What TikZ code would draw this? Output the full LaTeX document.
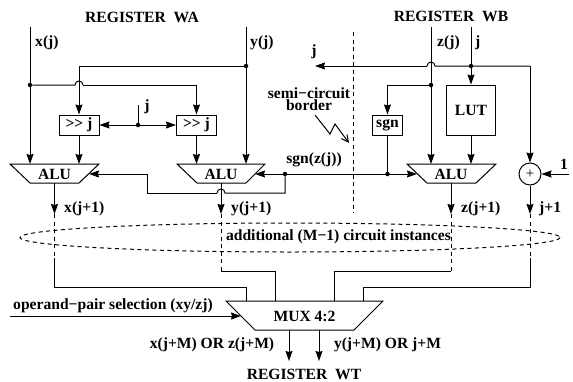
\documentclass[tikz,border=0pt]{standalone}
\usepackage{fontspec}
\setmainfont{Liberation Serif}
\usetikzlibrary{arrows.meta,calc}
\tikzset{
  wire/.style={line width=1pt},
  arr/.style={wire,-{Stealth[length=10pt,width=7pt,inset=1pt]}},
  dashw/.style={wire,dash pattern=on 4pt off 3.5pt},
  lbl/.style={inner sep=0pt,font=\fontsize{15.6}{16}\selectfont\bfseries},
  boxn/.style={draw,line width=1pt,inner sep=0pt,font=\fontsize{15.6}{16}\selectfont\bfseries},
  trap/.style={line width=1pt,fill=white},
  dot/.style={circle,fill=black,inner sep=0pt,minimum size=4.5pt},
  hop/.style={start angle=180,end angle=360,radius=4}
}
\begin{document}
\begin{tikzpicture}[x=1pt,y=-1pt]
\useasboundingbox (0,0) rectangle (573,381);
% texts
\node[lbl] (rwa) at (142,17) {REGISTER\ \ WA};
\node[lbl] (rwb) at (451,16.5) {REGISTER\ \ WB};
\node[lbl] (rwt) at (304,374) {REGISTER\ \ WT};
\node[lbl,anchor=west] (lxj) at (35,43) {x(j)};
\node[lbl,anchor=west] (lyj) at (250,43) {y(j)};
\node[lbl,anchor=west] (lzj) at (437,43) {z(j)};
\node[lbl,anchor=west] (lj2) at (475,43) {j};
\node[lbl] (lj1) at (147,107) {j};
\node[lbl] (lj3) at (314,52) {j};
\node[lbl] (semi) at (309,93.5) {semi−circuit};
\node[lbl] (bord) at (309,105) {border};
\node[lbl] (lsgn) at (314,160) {sgn(z(j))};
\node[lbl] (lone) at (564,164) {1};
\node[lbl,anchor=west] (lx1) at (64,209) {x(j+1)};
\node[lbl,anchor=west] (ly1) at (231,209) {y(j+1)};
\node[lbl,anchor=west] (lz1) at (461,209) {z(j+1)};
\node[lbl,anchor=west] (lj4) at (539,209) {j+1};
\node[lbl] (add) at (338.5,237) {additional (M−1) circuit instances};
\node[lbl] (opsel) at (113,306) {operand−pair selection (xy/zj)};
\node[lbl] (oxz) at (212,345) {x(j+M) OR z(j+M)};
\node[lbl] (oyj) at (387.5,345) {y(j+M) OR j+M};
% boxes
\node[boxn,minimum width=40pt,minimum height=20pt] (sh1) at (79,125) {>{}> j};
\node[boxn,minimum width=40pt,minimum height=20pt] (sh2) at (196.5,125) {>{}> j};
\node[boxn,minimum width=29.5pt,minimum height=20pt] (sgn) at (387.5,125) {sgn};
\node[boxn,minimum width=49pt,minimum height=50pt] (lut) at (471,110) {LUT};
\node[draw,circle,line width=1pt,minimum size=22pt,inner sep=0pt,font=\fontsize{15}{15}\selectfont] (plus) at (530,174) {+};
% ALUs and MUX
\draw[trap] (10,164) -- (99,164) -- (79,183) -- (30,183) -- cycle;
\draw[trap] (177,164) -- (265,164) -- (246,183) -- (197,183) -- cycle;
\draw[trap] (407,164) -- (496,164) -- (476,183) -- (427,183) -- cycle;
\draw[trap] (226,301) -- (383,301) -- (354,330) -- (255,330) -- cycle;
\node[boxn,draw=none] (alu1) at (54.5,174) {ALU};
\node[boxn,draw=none] (alu2) at (221,174) {ALU};
\node[boxn,draw=none] (alu3) at (451,174) {ALU};
\node[boxn,draw=none] (mux) at (304.5,316) {MUX 4:2};
% junctions
\coordinate (xin) at (30,27);
\coordinate (yin) at (246,27);
\coordinate (zin) at (431,27);
\coordinate (jin) at (471,27);
\coordinate (jcorner) at (530,66);
\node[dot] (ydot) at (246,66) {};
\node[dot] (xdot) at (30,85) {};
\node[dot] (jdot) at (138,125) {};
\coordinate (jtop) at (138,105);
\node[dot] (jrdot) at (471,66) {};
\node[dot] (zdot) at (431,85) {};
\node[dot] (sdot) at (387.5,174) {};
\node[dot] (ldot) at (285,174) {};
% inputs
\draw[arr] (xin) -- (30,164);
\draw[arr] (yin) -- (246,164);
\draw[arr] (ydot) -- (79,66) -- (sh1.north);
\draw[wire] (xdot) -- (75,85) arc[hop];
\draw[arr] (83,85) -- (196.5,85) -- (sh2.north);
\draw[wire] (jtop) -- (jdot);
\draw[arr] (jdot) -- (sh1.east);
\draw[arr] (jdot) -- (sh2.west);
\draw[arr] (sh1.south) -- (79,164);
\draw[arr] (sh2.south) -- (196.5,164);
% right side
\draw[arr] (zin) -- (431,164);
\draw[arr] (jin) -- (lut.north);
\draw[arr] (lut.south) -- (471,164);
\draw[wire] (jcorner) -- (435,66) arc[start angle=360,end angle=180,radius=4];
\draw[arr] (427,66) -- (315,66);
\draw[arr] (jcorner) -- (plus.north);
\draw[arr] (zdot) -- (387.5,85) -- (sgn.north);
\draw[wire] (sgn.south) -- (sdot);
\coordinate (onein) at (569,174);
\draw[arr] (onein) -- (plus.east);
% sign line
\draw[arr] (ldot) -- (417,174);
\draw[arr] (ldot) -- (255,174);
\draw[wire] (ldot) -- (285,193) -- (225,193) arc[start angle=360,end angle=180,radius=4];
\draw[arr] (217,193) -- (147,193) -- (147,174) -- (89,174);
% outputs
\draw[arr] (54.5,183) -- (54.5,214);
\draw[arr] (221,183) -- (221,214);
\draw[arr] (451,183) -- (451,214);
\draw[arr] (plus.south) -- (530,214);
% dashed runs
\draw[dashw] (54.5,214) -- (54.5,258);
\draw[dashw] (221,214) -- (221,271);
\draw[dashw] (451,214) -- (451,271);
\draw[dashw] (530,214) -- (530,258);
% to the multiplexer
\draw[wire] (54.5,258) -- (54.5,287) -- (246,287) -- (246,301);
\draw[wire] (221,271) -- (275.5,271) -- (275.5,301);
\draw[wire] (451,271) -- (334,271) -- (334,301);
\draw[wire] (530,258) -- (530,287) -- (363,287) -- (363,301);
\coordinate (selin) at (10,316);
\draw[arr] (selin) -- (241,316);
\draw[arr] (289,330) -- (289,361);
\draw[arr] (319,330) -- (319,361);
% border and ellipse
\draw[dashw] (353.5,32) -- (353.5,213);
\draw[dashw] (290,237.5) ellipse [x radius=270,y radius=14.5];
\draw[line width=1pt,-{Straight Barb[length=7pt,width=7pt]}] (315,115) -- (330,134) -- (335,124) -- (349,143);
\end{tikzpicture}
\end{document}
